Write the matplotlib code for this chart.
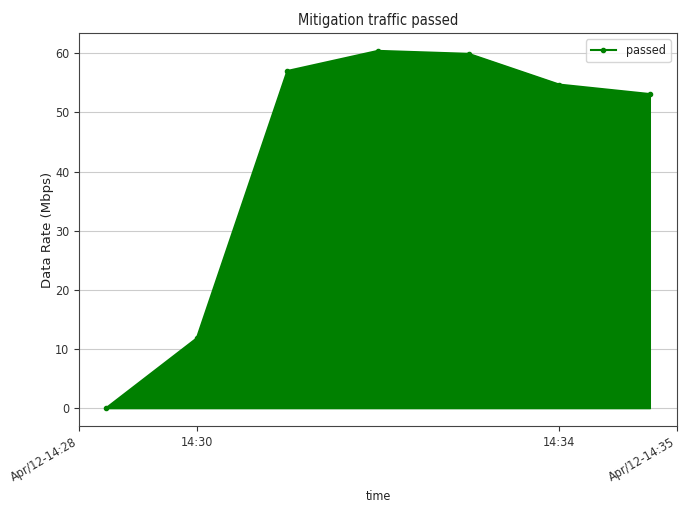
import matplotlib
matplotlib.use("Agg")
import matplotlib.pyplot as plt
import matplotlib.dates as mdates
import pandas as pd

times = ["2021-04-12 14:29", "2021-04-12 14:30", "2021-04-12 14:31", "2021-04-12 14:32",
         "2021-04-12 14:33", "2021-04-12 14:34", "2021-04-12 14:35"]
passed = [0.0, 11.8, 57.0, 60.4, 59.9, 54.7, 53.1]
mid_ticks = ["2021-04-12 14:30", "2021-04-12 14:34"]
mid_labels = ["14:30", "14:34"]

plt.rcParams['font.family'] = ['DejaVu Sans']
plt.rcParams['font.stretch'] = 'condensed'
plt.rcParams['text.color'] = '#222222'
plt.rcParams['xtick.color'] = '#333333'
plt.rcParams['ytick.color'] = '#333333'
plt.rcParams['axes.edgecolor'] = '#444444'

t = pd.to_datetime(times)
fig = plt.figure(figsize=(6.86, 5.08), dpi=100)
ax = fig.add_axes([79/686, 1-426/508, (677-79)/686, (426-33)/508])
ax.fill_between(t, 0, passed, color='green')
ax.plot(t, passed, color='green', marker='.', label='passed')
ax.grid(axis='y', color='#cccccc')
ax.set_axisbelow(True)
ax.set_title("Mitigation traffic passed", fontsize=10.5)
ax.set_ylabel("Data Rate (Mbps)", fontsize=9.5, fontstretch='normal', labelpad=1, color='#222222')
ax.set_xlabel("time", fontsize=9, color='#222222')
ax.legend(loc='upper right', fontsize=9)

x0, x1 = ax.get_xlim()
mids = [mdates.date2num(pd.Timestamp(m)) for m in mid_ticks]
ax.set_xticks([x0] + mids + [x1])
left_lab = "Apr/12-" + mdates.num2date(x0).strftime("%H:%M")
right_lab = "Apr/12-" + mdates.num2date(x1).strftime("%H:%M")
labels = ax.set_xticklabels([left_lab] + mid_labels + [right_lab], fontsize=9)
for lab in (labels[0], labels[-1]):
    lab.set_rotation(30)
    lab.set_ha('right')
ax.tick_params(axis='y', labelsize=9)
fig.savefig("out.png", dpi=100)
